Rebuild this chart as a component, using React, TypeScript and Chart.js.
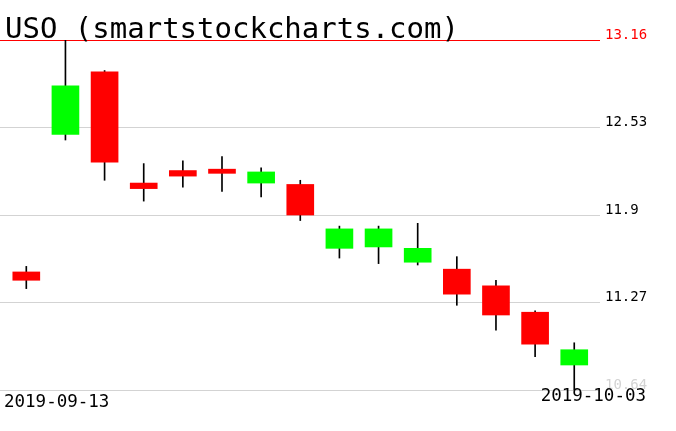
import React, { useEffect, useRef } from "react";
import { Chart, registerables } from "chart.js";

Chart.register(...registerables);

const TITLE = "USO (smartstockcharts.com)";
const dates = [
  "2019-09-13", "2019-09-16", "2019-09-17", "2019-09-18", "2019-09-19",
  "2019-09-20", "2019-09-23", "2019-09-24", "2019-09-25", "2019-09-26",
  "2019-09-27", "2019-09-30", "2019-10-01", "2019-10-02", "2019-10-03",
];
const opens = [11.49, 12.48, 12.93, 12.13, 12.22, 12.23, 12.13, 12.12, 11.66, 11.67, 11.56, 11.51, 11.39, 11.2, 10.82];
const closes = [11.43, 12.83, 12.28, 12.09, 12.18, 12.2, 12.21, 11.9, 11.8, 11.8, 11.66, 11.33, 11.18, 10.97, 10.93];
const highs = [11.53, 13.16, 12.94, 12.27, 12.29, 12.32, 12.24, 12.15, 11.82, 11.82, 11.84, 11.6, 11.43, 11.21, 10.98];
const lows = [11.37, 12.44, 12.15, 12.0, 12.1, 12.07, 12.03, 11.86, 11.59, 11.55, 11.54, 11.25, 11.07, 10.88, 10.64];
const yTicks = [10.64, 11.27, 11.9, 12.53, 13.16];

const GREEN = "#00ff00";
const RED = "#ff0000";
const GRID = "#d3d3d3";
const MONO = '"DejaVu Sans Mono", monospace';

const textPlugin = {
  id: "textPlugin",
  afterDraw(chart: any) {
    const { ctx, chartArea } = chart;
    ctx.save();
    ctx.fillStyle = "#000";
    ctx.textBaseline = "alphabetic";
    ctx.font = `29px ${MONO}`;
    ctx.textAlign = "left";
    ctx.fillText(TITLE, 5, 38);
    ctx.font = `17.5px ${MONO}`;
    ctx.fillText(dates[0], chartArea.left + 4, chartArea.bottom + 17);
    ctx.textAlign = "right";
    ctx.fillText(dates[dates.length - 1], chartArea.right + 46, chartArea.bottom + 11);
    ctx.restore();
  },
};

export default function App() {
  const ref = useRef<HTMLCanvasElement>(null);
  useEffect(() => {
    const idx = dates.map((_, i) => i);
    const chart = new Chart(ref.current!, {
      type: "bar",
      data: {
        datasets: [
          {
            label: "body",
            data: idx.map((i) => ({ x: i, y: [opens[i], closes[i]] })) as any,
            backgroundColor: idx.map((i) => (closes[i] >= opens[i] ? GREEN : RED)),
            borderWidth: 0,
            barThickness: 27,
            grouped: false,
            order: 1,
          } as any,
          {
            label: "wick",
            data: idx.map((i) => ({ x: i, y: [lows[i], highs[i]] })) as any,
            backgroundColor: "#000",
            borderWidth: 0,
            barThickness: 1,
            grouped: false,
            order: 2,
          } as any,
        ],
      },
      options: {
        animation: false,
        responsive: false,
        devicePixelRatio: 1,
        layout: { padding: { top: 40, bottom: 41, left: 0, right: 0 } },
        plugins: { legend: { display: false }, tooltip: { enabled: false }, title: { display: false } },
        scales: {
          x: {
            type: "linear",
            min: -0.672,
            max: 14.658,
            offset: false,
            bounds: "ticks",
            display: false,
          },
          y: {
            position: "right",
            min: yTicks[0],
            max: yTicks[yTicks.length - 1],
            z: 1,
            afterBuildTicks: (axis: any) => {
              axis.ticks = yTicks.map((v) => ({ value: v }));
            },
            afterFit: (axis: any) => {
              axis.width = 76;
            },
            border: { display: false },
            grid: {
              drawTicks: false,
              lineWidth: 1,
              color: (c: any) => (c.tick && c.tick.value === yTicks[yTicks.length - 1] ? RED : GRID),
            },
            ticks: {
              padding: 5,
              labelOffset: -5,
              font: { family: MONO, size: 14 },
              color: (c: any) =>
                c.tick && c.tick.value === yTicks[yTicks.length - 1]
                  ? RED
                  : c.tick && c.tick.value === yTicks[0]
                  ? GRID
                  : "#000",
              callback: (v: any) => String(v),
            },
          },
        },
      },
      plugins: [textPlugin],
    });
    return () => chart.destroy();
  }, []);
  return (
    <div style={{ position: "absolute", left: 0, top: 0, width: 676, height: 431, background: "#fff" }}>
      <canvas ref={ref} width={676} height={431} style={{ display: "block" }} />
    </div>
  );
}
